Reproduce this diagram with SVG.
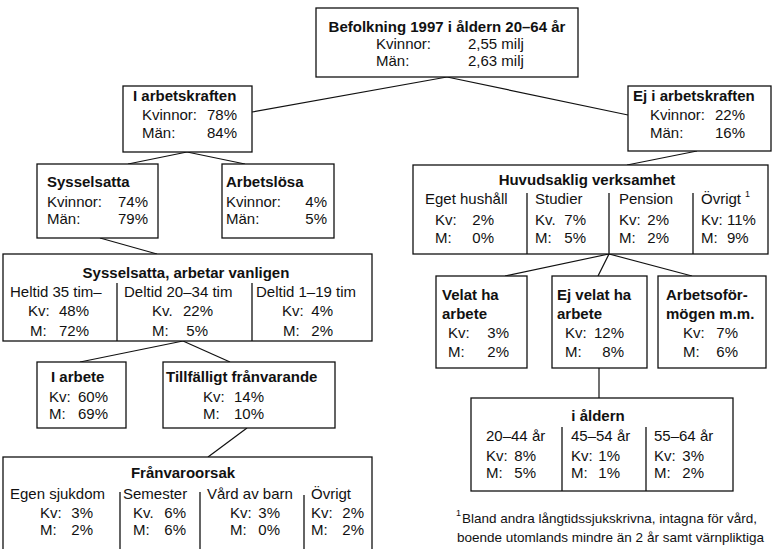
<svg xmlns="http://www.w3.org/2000/svg" width="774" height="549" viewBox="0 0 774 549">
<style>
text{font-family:"Liberation Sans",Arial,sans-serif;font-size:15px;fill:#111}
.b{font-weight:bold}
.c{text-anchor:middle}
.e{text-anchor:end}
.sup{font-size:9px}
.fn{font-size:13.5px}
rect.box{fill:#fff;stroke:#111;stroke-width:1.3}
line{stroke:#111;stroke-width:1.3}
.conn line{stroke-width:1.2}
</style>
<rect width="774" height="549" fill="#fff"/>
<g id="connectors" class="conn">
<line x1="447" y1="77" x2="252" y2="112"/>
<line x1="447" y1="77" x2="628" y2="115"/>
<line x1="187" y1="152" x2="128" y2="164"/>
<line x1="187" y1="152" x2="245" y2="164"/>
<line x1="100" y1="238" x2="157" y2="254"/>
<line x1="183" y1="341" x2="80" y2="362"/>
<line x1="183" y1="341" x2="230" y2="362"/>
<line x1="247" y1="428" x2="208" y2="457"/>
<line x1="697" y1="151" x2="627" y2="165"/>
<line x1="609" y1="254" x2="505" y2="276"/>
<line x1="609" y1="254" x2="598" y2="276"/>
<line x1="609" y1="254" x2="692" y2="276"/>
<line x1="599" y1="368" x2="599" y2="398"/>
</g>
<g id="befolkning">
<rect class="box" x="316" y="8" width="262" height="69"/>
<text class="b c" x="447" y="32">Befolkning 1997 i åldern 20–64 år</text>
<text x="376" y="49">Kvinnor:</text><text x="468" y="49">2,55 milj</text>
<text x="376" y="66">Män:</text><text x="468" y="66">2,63 milj</text>
</g>
<g id="i-arbetskraften">
<rect class="box" x="123" y="86" width="129" height="66"/>
<text class="b" x="133" y="101">I arbetskraften</text>
<text x="142" y="120">Kvinnor:</text><text class="e" x="237" y="120">78%</text>
<text x="142" y="138">Män:</text><text class="e" x="237" y="138">84%</text>
</g>
<g id="ej-i-arbetskraften">
<rect class="box" x="628" y="86" width="143" height="65"/>
<text class="b" x="633" y="101">Ej i arbetskraften</text>
<text x="650" y="120">Kvinnor:</text><text class="e" x="745" y="120">22%</text>
<text x="650" y="138">Män:</text><text class="e" x="745" y="138">16%</text>
</g>
<g id="sysselsatta">
<rect class="box" x="37" y="164" width="121" height="74"/>
<text class="b" x="47" y="187">Sysselsatta</text>
<text x="47" y="207">Kvinnor:</text><text class="e" x="148" y="207">74%</text>
<text x="47" y="224">Män:</text><text class="e" x="148" y="224">79%</text>
</g>
<g id="arbetslosa">
<rect class="box" x="222" y="164" width="112" height="74"/>
<text class="b" x="226" y="187">Arbetslösa</text>
<text x="226" y="207">Kvinnor:</text><text class="e" x="327" y="207">4%</text>
<text x="226" y="224">Män:</text><text class="e" x="327" y="224">5%</text>
</g>
<g id="sysselsatta-vanligen">
<rect class="box" x="3" y="254" width="369" height="87"/>
<line x1="117" y1="283" x2="117" y2="341"/>
<line x1="252" y1="283" x2="252" y2="341"/>
<text class="b c" x="186" y="278">Sysselsatta, arbetar vanligen</text>
<text x="10" y="297">Heltid 35 tim–</text>
<text x="28" y="316">Kv:</text><text class="e" x="89" y="316">48%</text>
<text x="30" y="336">M:</text><text class="e" x="89" y="336">72%</text>
<text x="124" y="297">Deltid 20–34 tim</text>
<text x="152" y="316">Kv.</text><text class="e" x="213" y="316">22%</text>
<text x="152" y="336">M:</text><text class="e" x="208" y="336">5%</text>
<text x="256" y="297">Deltid 1–19 tim</text>
<text x="282" y="316">Kv:</text><text class="e" x="333" y="316">4%</text>
<text x="283" y="336">M:</text><text class="e" x="333" y="336">2%</text>
</g>
<g id="i-arbete">
<rect class="box" x="37" y="362" width="89" height="66"/>
<text class="b" x="51" y="382">I arbete</text>
<text x="49" y="402">Kv:</text><text class="e" x="108" y="402">60%</text>
<text x="49" y="419">M:</text><text class="e" x="108" y="419">69%</text>
</g>
<g id="tillfalligt">
<rect class="box" x="163" y="362" width="172" height="66"/>
<text class="b" x="166" y="382">Tillfälligt frånvarande</text>
<text x="203" y="402">Kv:</text><text class="e" x="264" y="402">14%</text>
<text x="203" y="419">M:</text><text class="e" x="264" y="419">10%</text>
</g>
<g id="franvaroorsak">
<rect class="box" x="3" y="457" width="369" height="110"/>
<line x1="120" y1="492" x2="120" y2="549"/>
<line x1="200" y1="492" x2="200" y2="549"/>
<line x1="304" y1="495" x2="304" y2="549"/>
<text class="b c" x="183" y="478">Frånvaroorsak</text>
<text x="10" y="499">Egen sjukdom</text>
<text x="40" y="518">Kv:</text><text class="e" x="93" y="518">3%</text>
<text x="40" y="535">M:</text><text class="e" x="93" y="535">2%</text>
<text x="123" y="499">Semester</text>
<text x="133" y="518">Kv.</text><text class="e" x="186" y="518">6%</text>
<text x="133" y="535">M:</text><text class="e" x="186" y="535">6%</text>
<text x="207" y="499">Vård av barn</text>
<text x="230" y="518">Kv:</text><text class="e" x="280" y="518">3%</text>
<text x="230" y="535">M:</text><text class="e" x="280" y="535">0%</text>
<text x="311" y="499">Övrigt</text>
<text x="311" y="518">Kv:</text><text class="e" x="364" y="518">2%</text>
<text x="311" y="535">M:</text><text class="e" x="364" y="535">2%</text>
</g>
<g id="huvudsaklig">
<rect class="box" x="413" y="165" width="355" height="89"/>
<line x1="527" y1="193" x2="527" y2="254"/>
<line x1="609" y1="193" x2="609" y2="254"/>
<line x1="693" y1="193" x2="693" y2="254"/>
<text class="b c" x="587" y="185">Huvudsaklig verksamhet</text>
<text x="425" y="204">Eget hushåll</text>
<text x="435" y="225">Kv:</text><text class="e" x="494" y="225">2%</text>
<text x="435" y="243">M:</text><text class="e" x="494" y="243">0%</text>
<text x="535" y="204">Studier</text>
<text x="535" y="225">Kv.</text><text class="e" x="586" y="225">7%</text>
<text x="535" y="243">M:</text><text class="e" x="586" y="243">5%</text>
<text x="619" y="204">Pension</text>
<text x="619" y="225">Kv:</text><text class="e" x="669" y="225">2%</text>
<text x="619" y="243">M:</text><text class="e" x="669" y="243">2%</text>
<text x="701" y="204">Övrigt</text><text class="sup" x="745" y="197">1</text>
<text x="701" y="225">Kv:</text><text x="727" y="225">11%</text>
<text x="701" y="243">M:</text><text x="727" y="243">9%</text>
</g>
<g id="velat">
<rect class="box" x="436" y="276" width="91" height="92"/>
<text class="b" x="442" y="300">Velat ha</text>
<text class="b" x="442" y="319">arbete</text>
<text x="448" y="338">Kv:</text><text class="e" x="509" y="338">3%</text>
<text x="448" y="357">M:</text><text class="e" x="509" y="357">2%</text>
</g>
<g id="ej-velat">
<rect class="box" x="552" y="276" width="95" height="92"/>
<text class="b" x="557" y="300">Ej velat ha</text>
<text class="b" x="557" y="319">arbete</text>
<text x="565" y="338">Kv:</text><text class="e" x="624" y="338">12%</text>
<text x="565" y="357">M:</text><text class="e" x="624" y="357">8%</text>
</g>
<g id="arbetsoformogen">
<rect class="box" x="658" y="276" width="108" height="92"/>
<text class="b" x="666" y="300">Arbetsoför-</text>
<text class="b" x="666" y="319">mögen m.m.</text>
<text x="683" y="338">Kv:</text><text class="e" x="738" y="338">7%</text>
<text x="683" y="357">M:</text><text class="e" x="738" y="357">6%</text>
</g>
<g id="i-aldern">
<rect class="box" x="471" y="398" width="262" height="93"/>
<line x1="562" y1="427" x2="562" y2="491"/>
<line x1="646" y1="427" x2="646" y2="491"/>
<text class="b c" x="598" y="421">i åldern</text>
<text x="486" y="441">20–44 år</text>
<text x="486" y="461">Kv:</text><text class="e" x="536" y="461">8%</text>
<text x="486" y="478">M:</text><text class="e" x="536" y="478">5%</text>
<text x="571" y="441">45–54 år</text>
<text x="571" y="461">Kv:</text><text class="e" x="620" y="461">1%</text>
<text x="571" y="478">M:</text><text class="e" x="620" y="478">1%</text>
<text x="654" y="441">55–64 år</text>
<text x="654" y="461">Kv:</text><text class="e" x="704" y="461">3%</text>
<text x="654" y="478">M:</text><text class="e" x="704" y="478">2%</text>
</g>
<g id="footnote">
<text class="sup" x="456" y="516">1</text>
<text class="fn" x="462" y="523">Bland andra långtidssjukskrivna, intagna för vård,</text>
<text class="fn" x="457" y="542">boende utomlands mindre än 2 år samt värnpliktiga</text>
</g>
</svg>
